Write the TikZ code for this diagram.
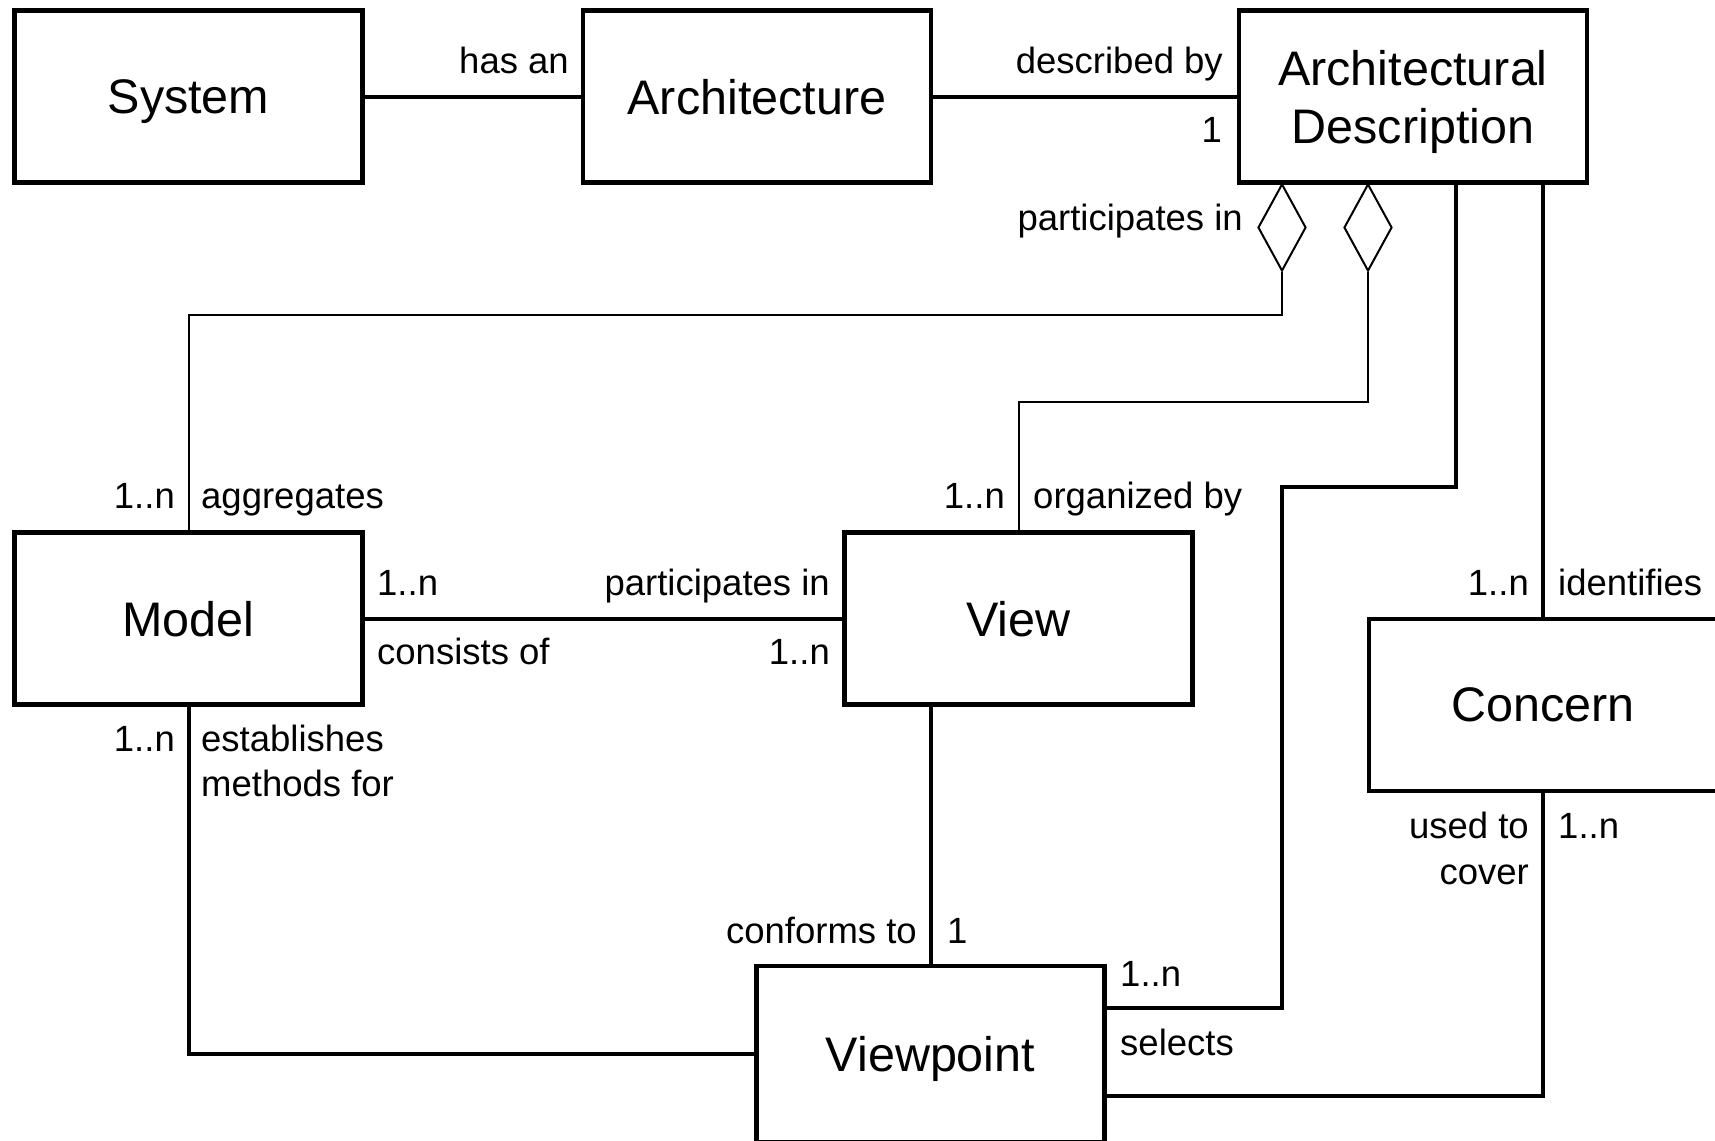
\documentclass[tikz,border=0pt]{standalone}
\usepackage{fontspec}
\setmainfont{Liberation Sans}
\usetikzlibrary{shapes.geometric}

\tikzset{
  entity/.style={draw, line width=4.4bp, minimum width=348bp, minimum height=172bp,
    inner sep=0pt, text depth=0pt, align=center,
    font=\fontsize{48.5bp}{58bp}\selectfont},
  lbl/.style={inner sep=0pt, font=\fontsize{36.5bp}{45bp}\selectfont},
  thick link/.style={line width=4bp},
  thin link/.style={line width=2bp},
  agg/.style={draw, diamond, fill=white, line width=2bp, minimum width=48bp,
    minimum height=87bp, inner sep=0pt}
}

\begin{document}
\begin{tikzpicture}[x=1bp, y=-1bp]
  \useasboundingbox (0,0) rectangle (1715,1140);
  \clip (0,0) rectangle (1715,1140);
  \fill[white] (0,0) rectangle (1715,1140);

  % classes
  \node[entity] (sys)  at (188.5,96.5)  {System};
  \node[entity] (arch) at (757,96.5)    {Architecture};
  \node[entity] (ad)   at (1413,96.5)   {Architectural\\Description};
  \node[entity] (model) at (188.5,618.5) {Model};
  \node[entity] (view) at (1018.5,618.5) {View};
  \node[entity] (con)  at (1543,705)    {Concern};
  \node[entity, minimum height=176bp] (vp) at (930.5,1054) {Viewpoint};

  % aggregation diamonds under the description
  \node[agg, anchor=north] (dm) at (1282,183) {};
  \node[agg, anchor=north] (dv) at (1368,183) {};

  % route corners
  \coordinate (adA) at (1456,183);
  \coordinate (adB) at (1456,487);
  \coordinate (adC) at (1282,487);
  \coordinate (adD) at (1282,1008);
  \coordinate (cB)  at (1543,1096);

  % associations
  \draw[thick link] (sys) -- (arch);
  \draw[thick link] (arch) -- (ad);
  \draw[thin link] (dm.south) -- ++(0,43) -| (model.north);
  \draw[thin link] (dv.south) -- ++(0,130) -| (view.north);
  \draw[thick link] (adA) -- (adB) -- (adC) -- (adD) -- (adD -| vp.east);
  \draw[thick link] (ad.south -| con.north) -- (con.north);
  \draw[thick link] (model) -- (view);
  \draw[thick link] (model.south) |- (vp.west);
  \draw[thick link] (view.south -| vp.north) -- (vp.north);
  \draw[thick link] (con.south) -- (cB) -- (cB -| vp.east);

  % role names and multiplicities
  \node[lbl, anchor=base east] (l1) at (569,73) {has an};
  \node[lbl, anchor=base east] (l2) at (1223,73) {described by};
  \node[lbl, anchor=base east] (l3) at (1222,142) {1};
  \node[lbl, anchor=base east] (l4) at (1243,230) {participates in};

  \node[lbl, anchor=base east] (l5) at (175,508) {1..n};
  \node[lbl, anchor=base west] (l6) at (201,508) {aggregates};
  \node[lbl, anchor=base east] (l7) at (1005,508) {1..n};
  \node[lbl, anchor=base west] (l8) at (1033,508) {organized by};

  \node[lbl, anchor=base west] (l9)  at (377,595) {1..n};
  \node[lbl, anchor=base east] (l10) at (830,595) {participates in};
  \node[lbl, anchor=base west] (l11) at (377,664) {consists of};
  \node[lbl, anchor=base east] (l12) at (830,664) {1..n};

  \node[lbl, anchor=base east] (l13) at (175,751) {1..n};
  \node[lbl, anchor=base west] (l14) at (201,751) {establishes};
  \node[lbl, anchor=base west] (l15) at (201,796) {methods for};

  \node[lbl, anchor=base east] (l16) at (917,943) {conforms to};
  \node[lbl, anchor=base west] (l17) at (947,943) {1};

  \node[lbl, anchor=base west] (l18) at (1120,986) {1..n};
  \node[lbl, anchor=base west] (l19) at (1120,1055) {selects};

  \node[lbl, anchor=base east] (l20) at (1529,595) {1..n};
  \node[lbl, anchor=base west] (l21) at (1558,595) {identifies};

  \node[lbl, anchor=base east] (l22) at (1529,838) {used to};
  \node[lbl, anchor=base east] (l23) at (1529,884) {cover};
  \node[lbl, anchor=base west] (l24) at (1558,838) {1..n};
\end{tikzpicture}
\end{document}
